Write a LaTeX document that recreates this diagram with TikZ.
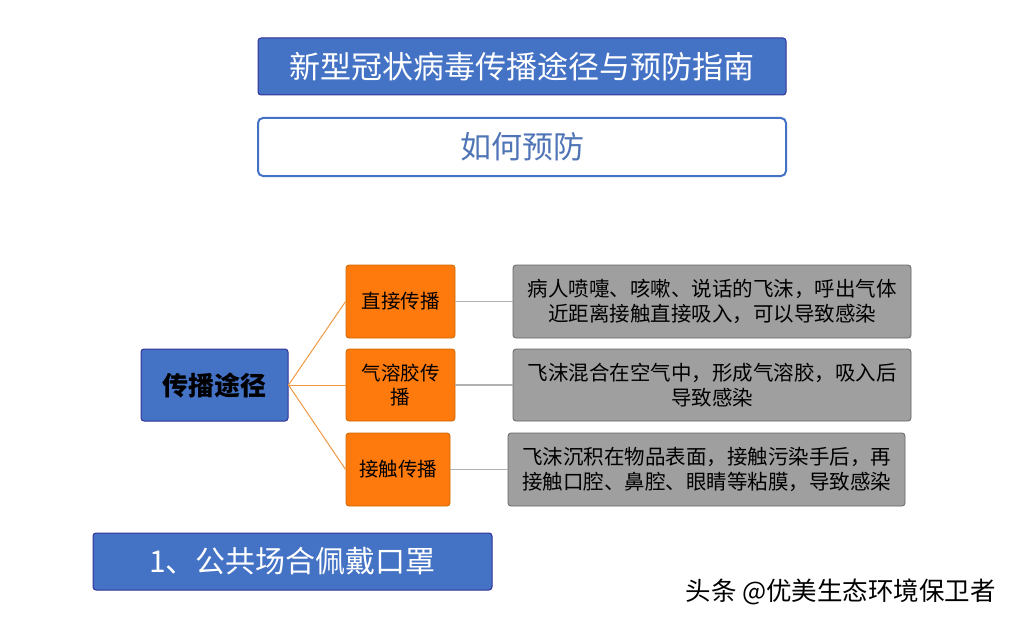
\documentclass[tikz,border=0pt]{standalone}
\usepackage{fontspec}
\newfontfamily\cjk{Noto Sans CJK SC}
\begin{document}
\begin{tikzpicture}[x=1pt,y=-1pt,
 bluebox/.style={draw=blue!50!black!80,line width=1pt,fill=blue!65!cyan!70!black!95,rounded corners=3pt,inner sep=0pt},
 orbox/.style={draw=orange!80!black,line width=0.8pt,fill=orange!90!red!95,rounded corners=3pt,inner sep=0pt,align=center,font=\cjk\fontsize{19.5}{24}\selectfont},
 grbox/.style={draw=gray!80!black,line width=0.8pt,fill=gray!75,rounded corners=3pt,inner sep=0pt,align=center,font=\cjk\fontsize{20.5}{25}\selectfont},
 oline/.style={draw=orange!70!brown!80,line width=1pt},
 gline/.style={draw=gray!60,line width=1.5pt}]
\useasboundingbox (0,0) rectangle (1020,623);
\fill[white] (0,0) rectangle (1020,623);
\definecolor{tb}{RGB}{68,114,196}
\node[bluebox,fill=tb,minimum width=528,minimum height=57,text=white,font=\cjk\fontsize{31}{34}\selectfont] (title) at (522,66.5) {新型冠状病毒传播途径与预防指南};
\node[draw=tb,line width=2pt,fill=white,rounded corners=5pt,minimum width=528,minimum height=58,text=tb!80!gray,font=\cjk\fontsize{31}{34}\selectfont] (how) at (522,147) {如何预防};
\node[bluebox,fill=tb,minimum width=147,minimum height=72,font=\cjk\bfseries\fontsize{26}{30}\selectfont] (root) at (214.5,385) {传播途径};
\node[orbox,minimum width=109,minimum height=73] (o1) at (400.5,301.5) {直接传播};
\node[orbox,minimum width=109,minimum height=72] (o2) at (400.5,385) {气溶胶传\\播};
\node[orbox,minimum width=104,minimum height=73] (o3) at (398,469.5) {接触传播};
\node[grbox,minimum width=398,minimum height=73] (g1) at (712,301.5) {病人喷嚏、咳嗽、说话的飞沫，呼出气体\\近距离接触直接吸入，可以导致感染};
\node[grbox,minimum width=398,minimum height=72] (g2) at (712,385) {飞沫混合在空气中，形成气溶胶，吸入后\\导致感染};
\node[grbox,minimum width=397,minimum height=73] (g3) at (706.5,469.5) {飞沫沉积在物品表面，接触污染手后，再\\接触口腔、鼻腔、眼睛等粘膜，导致感染};
\node[bluebox,fill=tb,minimum width=399,minimum height=57,text=white,font=\cjk\fontsize{30}{34}\selectfont] (mask) at (292.5,561.5) {1、公共场合佩戴口罩};
\node[anchor=west,font=\cjk\fontsize{25.5}{28}\selectfont] (wm) at (682,592) {头条 @优美生态环境保卫者};
\foreach \o in {o1,o2,o3} \draw[oline] (root.east) -- (\o.west);
\draw[gline] (o1.east) -- (g1.west);
\draw[gline] (o2.east) -- (g2.west);
\draw[gline] (o3.east) -- (g3.west);
\end{tikzpicture}
\end{document}
